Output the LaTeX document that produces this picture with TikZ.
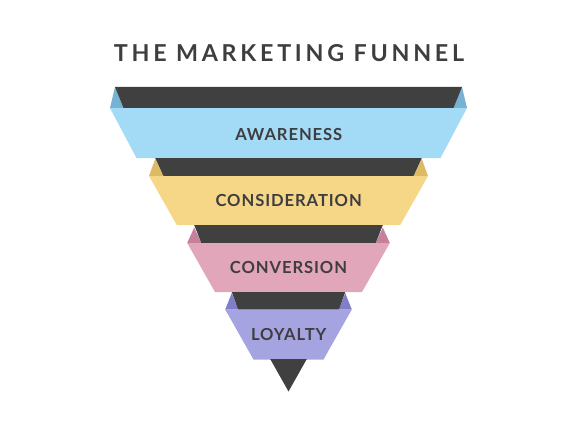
\documentclass[tikz,border=0pt]{standalone}
\usepackage{fontspec}
\setmainfont{Lato}
\newfontfamily\titlefont[LetterSpace=16]{Lato Bold}
\newfontfamily\stagefont[LetterSpace=5.5]{Lato Bold}
\usepackage{tikz}

\definecolor{funnelgray}{RGB}{64,64,64}
\definecolor{inkgray}{RGB}{62,62,64}
\definecolor{awareblue}{RGB}{163,218,245}
\definecolor{awareflap}{RGB}{118,178,210}
\definecolor{consyellow}{RGB}{246,214,135}
\definecolor{consflap}{RGB}{222,186,100}
\definecolor{convpink}{RGB}{226,166,186}
\definecolor{convflap}{RGB}{196,128,156}
\definecolor{loyallav}{RGB}{166,164,224}
\definecolor{loyalflap}{RGB}{128,126,200}

\begin{document}
\begin{tikzpicture}[
    x=1pt,
    y=-1pt,
    back/.style={fill=funnelgray},
    title/.style={text=inkgray, inner sep=0pt, font=\titlefont\fontsize{23.3}{26}\selectfont},
    stage/.style={text=inkgray, inner sep=0pt, font=\stagefont\fontsize{16.6}{19}\selectfont}
]
\useasboundingbox (0,0) rectangle (577,433);

\node[title] (heading) at (289,53.3) {THE MARKETING FUNNEL};

% awareness
\fill[awareflap] (110,108) -- (115,87) -- (123.5,108) -- cycle;
\fill[awareflap] (467,108) -- (462,87) -- (453.5,108) -- cycle;
\fill[back] (115,87) -- (462,87) -- (453.5,108) -- (123.5,108) -- cycle;
\fill[awareblue] (110,108) -- (467,108) -- (440.5,158) -- (136.5,158) -- cycle;
\node[stage] (awareness) at (288.8,134.2) {AWARENESS};

% consideration
\fill[consflap] (149,176) -- (155.2,159) -- (163.5,176) -- cycle;
\fill[consflap] (428,176) -- (421.8,159) -- (413.5,176) -- cycle;
\fill[back] (155.2,158) -- (421.8,158) -- (413.5,176) -- (163.5,176) -- cycle;
\fill[consyellow] (149,176) -- (428,176) -- (400.2,225) -- (176.8,225) -- cycle;
\node[stage] (consideration) at (288.7,200) {CONSIDERATION};

% conversion
\fill[convflap] (187.2,243) -- (194.2,227.5) -- (201.3,243) -- cycle;
\fill[convflap] (389.8,243) -- (382.8,227.5) -- (375.7,243) -- cycle;
\fill[back] (194.2,225) -- (382.8,225) -- (375.7,243) -- (201.3,243) -- cycle;
\fill[convpink] (187.2,243) -- (389.8,243) -- (362,292) -- (215,292) -- cycle;
\node[stage] (conversion) at (288.5,267.5) {CONVERSION};

% loyalty
\fill[loyalflap] (225.2,309.5) -- (231.8,293) -- (238,309.5) -- cycle;
\fill[loyalflap] (351.8,309.5) -- (345.2,293) -- (339,309.5) -- cycle;
\fill[back] (231.8,292) -- (345.2,292) -- (339,309.5) -- (238,309.5) -- cycle;
\fill[loyallav] (225.2,309.5) -- (351.8,309.5) -- (323.5,359.5) -- (253.5,359.5) -- cycle;
\node[stage] (loyalty) at (288.7,334.5) {LOYALTY};

% tip
\fill[back] (270.2,359) -- (306.8,359) -- (288.5,391.5) -- cycle;
\end{tikzpicture}
\end{document}
